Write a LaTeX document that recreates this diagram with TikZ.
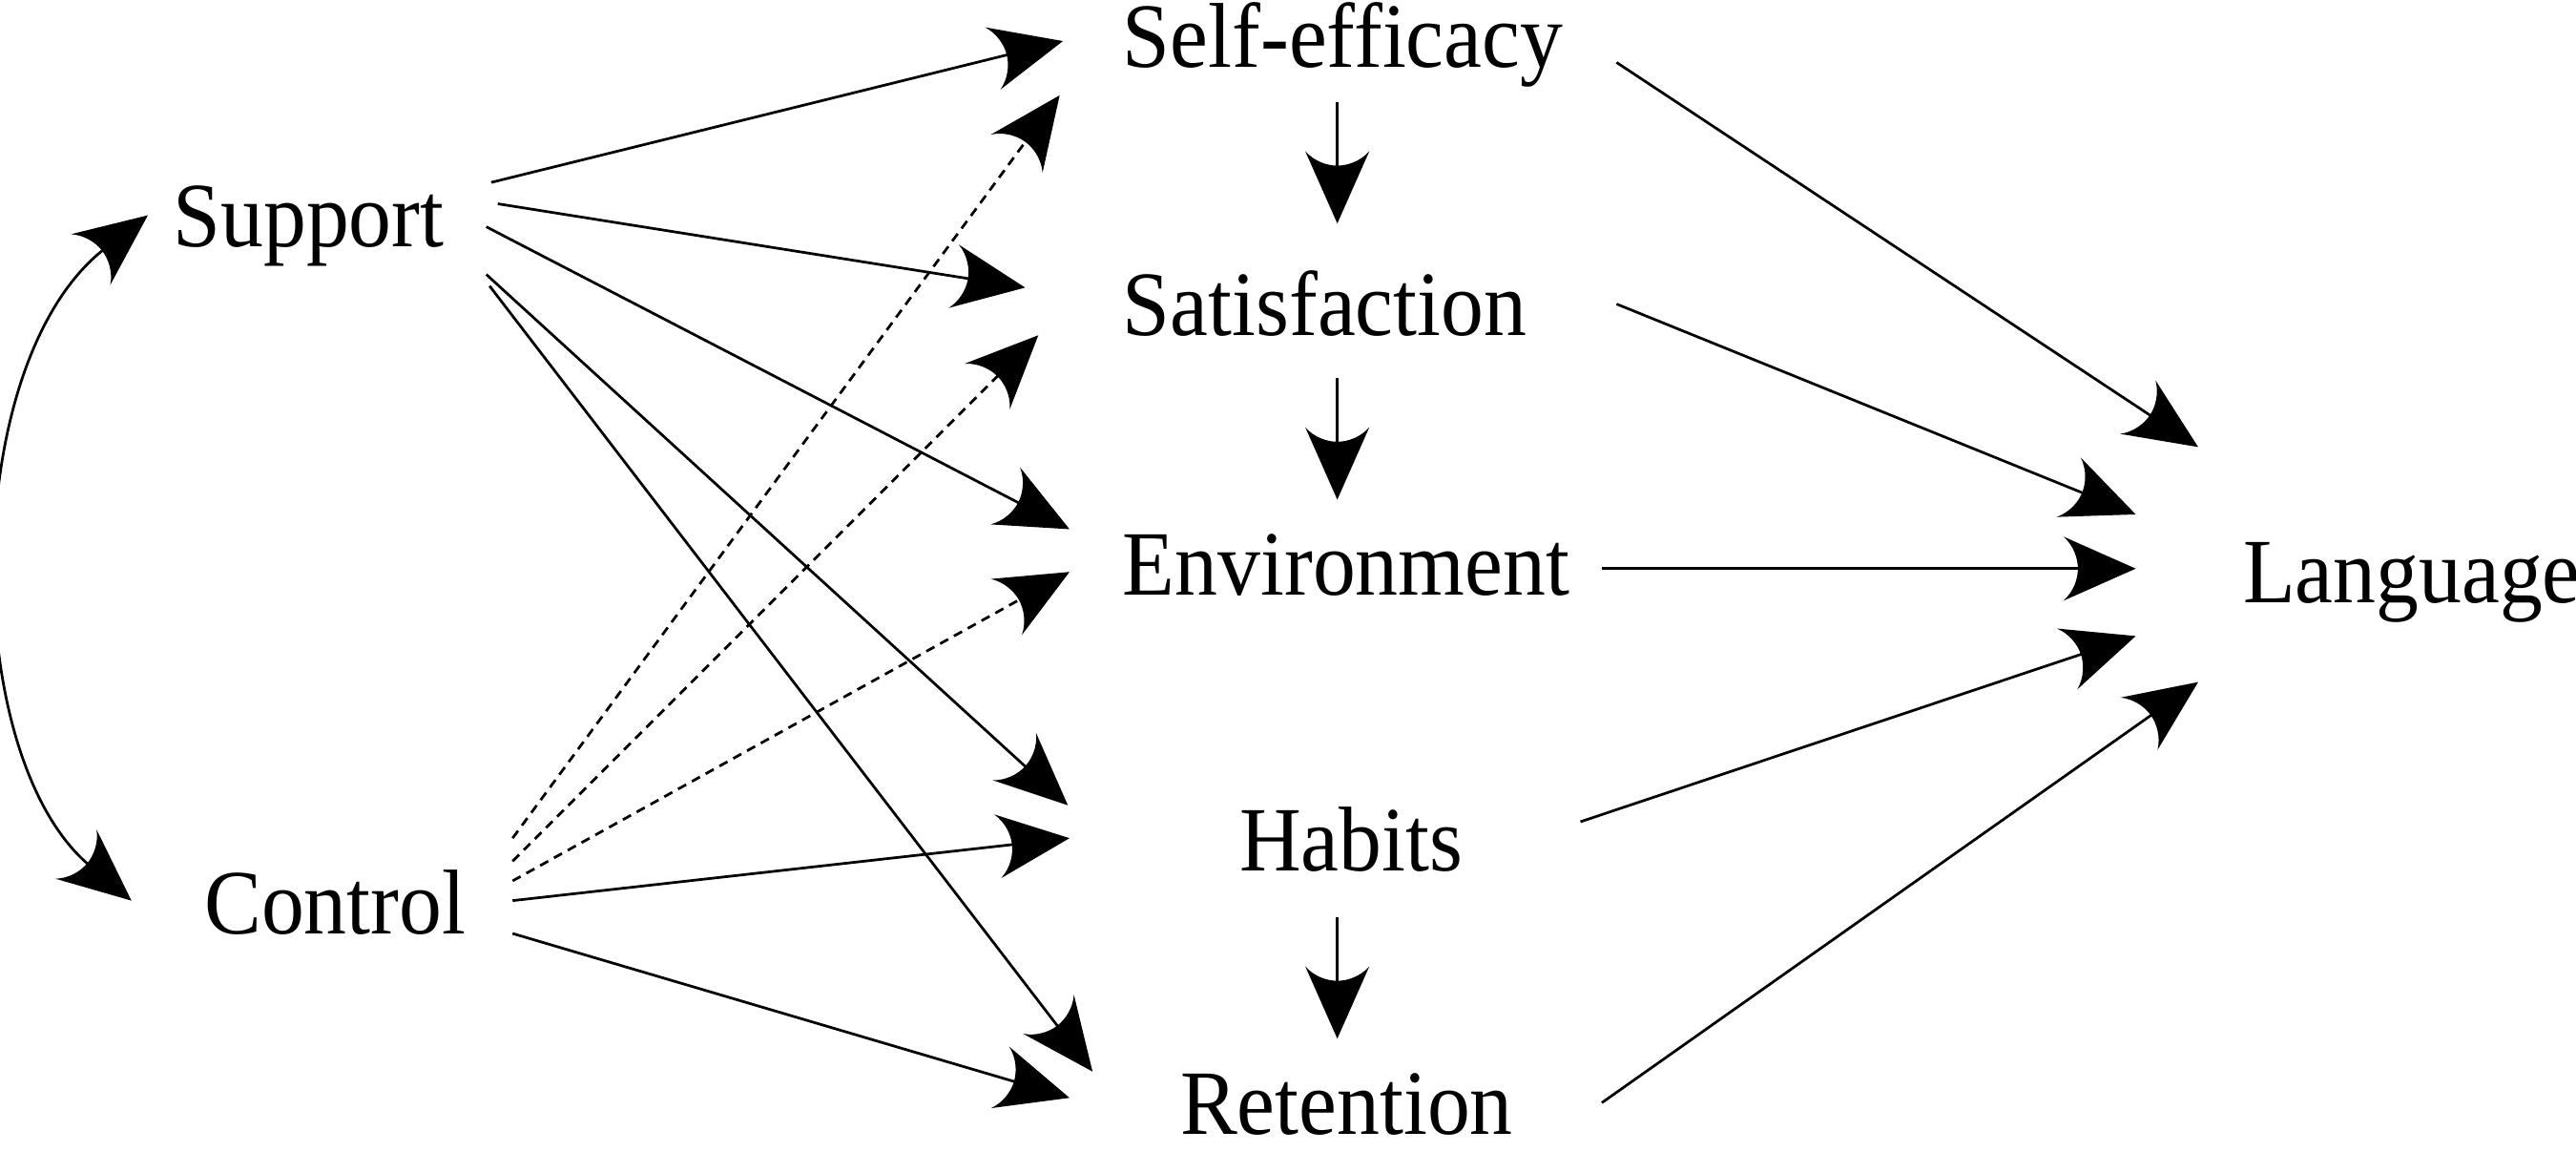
\documentclass[tikz,border=0pt]{standalone}
\usepackage{fontspec}
\setmainfont{Liberation Serif}[FakeStretch=0.93]
\usetikzlibrary{arrows.meta,calc}
\pgfdeclarearrow{
  name = Barb,
  defaults = {length = 22pt, width = 19.5pt},
  parameters = {\the\pgfarrowlength,\the\pgfarrowwidth},
  setup code = {
    \pgfarrowssettipend{0pt}
    \pgfarrowssetlineend{-0.75\pgfarrowlength}
    \pgfarrowssetbackend{-\pgfarrowlength}
    \pgfarrowshullpoint{0pt}{0pt}
    \pgfarrowsupperhullpoint{-\pgfarrowlength}{0.5\pgfarrowwidth}
    \pgfarrowssavethe\pgfarrowlength
    \pgfarrowssavethe\pgfarrowwidth
  },
  drawing code = {
    \pgfpathmoveto{\pgfpoint{0pt}{0pt}}
    \pgfpathlineto{\pgfpoint{-\pgfarrowlength}{0.5\pgfarrowwidth}}
    \pgfpathcurveto{\pgfpoint{-0.86\pgfarrowlength}{0.36\pgfarrowwidth}}{\pgfpoint{-0.8\pgfarrowlength}{0.16\pgfarrowwidth}}{\pgfpoint{-0.8\pgfarrowlength}{0pt}}
    \pgfpathcurveto{\pgfpoint{-0.8\pgfarrowlength}{-0.16\pgfarrowwidth}}{\pgfpoint{-0.86\pgfarrowlength}{-0.36\pgfarrowwidth}}{\pgfpoint{-\pgfarrowlength}{-0.5\pgfarrowwidth}}
    \pgfpathclose
    \pgfusepathqfill
  }
}
\begin{document}
\begin{tikzpicture}[x=0.5pt,y=-0.5pt,
  lbl/.style={anchor=base west, inner sep=0pt, font=\fontsize{28}{32}\selectfont},
  conn/.style={line width=0.8pt, -{Barb}},
  dsh/.style={conn, dash pattern=on 2.8pt off 2pt}]
\useasboundingbox (0,0) rectangle (1568,700.4);
% nodes
\node[lbl] (sup)  at (105,150) {Support};
\node[lbl] (ctl)  at (124,568) {Control};
\node[lbl] (self) at (683,41)  {Self-efficacy};
\node[lbl] (sat)  at (683,204) {Satisfaction};
\node[lbl] (env)  at (683,362) {Environment};
\node[lbl] (hab)  at (754,530) {Habits};
\node[lbl] (ret)  at (718,690) {Retention};
\node[lbl] (lang) at (1365,367) {Language};
% Support -> middle
\draw[conn] ($(sup.base west)+(194,-39)$) -- ($(self.base west)+(-36,-16)$);
\draw[conn] ($(sup.base west)+(198,-26)$) -- ($(sat.base west)+(-59,-29)$);
\draw[conn] ($(sup.base west)+(191,-12)$) -- ($(env.base west)+(-32,-40)$);
\draw[conn] ($(sup.base west)+(191,17)$)  -- ($(hab.base west)+(-104,-40)$);
\draw[conn] ($(sup.base west)+(193,24)$)  -- ($(ret.base west)+(-53,-38)$);
% Control -> middle
\draw[dsh]  ($(ctl.base west)+(188,-58)$) -- ($(self.base west)+(-38,17)$);
\draw[dsh]  ($(ctl.base west)+(188,-44)$) -- ($(sat.base west)+(-51,0)$);
\draw[dsh]  ($(ctl.base west)+(188,-32)$) -- ($(env.base west)+(-32,-14)$);
\draw[conn] ($(ctl.base west)+(188,-20)$) -- ($(hab.base west)+(-103,-20)$);
\draw[conn] ($(ctl.base west)+(188,0)$)   -- ($(ret.base west)+(-67,-22)$);
% vertical
\draw[conn] ($(self.base west)+(131,21)$) -- ($(sat.base west)+(131,-68)$);
\draw[conn] ($(sat.base west)+(131,26)$)  -- ($(env.base west)+(131,-58)$);
\draw[conn] ($(hab.base west)+(60,28)$)   -- ($(ret.base west)+(96,-58)$);
% middle -> Language
\draw[conn] ($(self.base west)+(301,-3)$) -- ($(lang.base west)+(-27,-95)$);
\draw[conn] ($(sat.base west)+(301,-19)$) -- ($(lang.base west)+(-65,-54)$);
\draw[conn] ($(env.base west)+(292,-16)$) -- ($(lang.base west)+(-65,-21)$);
\draw[conn] ($(hab.base west)+(208,-30)$) -- ($(lang.base west)+(-65,20)$);
\draw[conn] ($(ret.base west)+(257,-19)$) -- ($(lang.base west)+(-27,48)$);
% covariance
\coordinate (ctip) at ($(ctl.base west)+(-44,-20)$);
\coordinate (stip) at ($(sup.base west)+(-15,-19)$);
\draw[line width=0.8pt, {Barb}-{Barb}] (ctip) .. controls (-25,460) and (-25,220) .. (stip);
\end{tikzpicture}
\end{document}
